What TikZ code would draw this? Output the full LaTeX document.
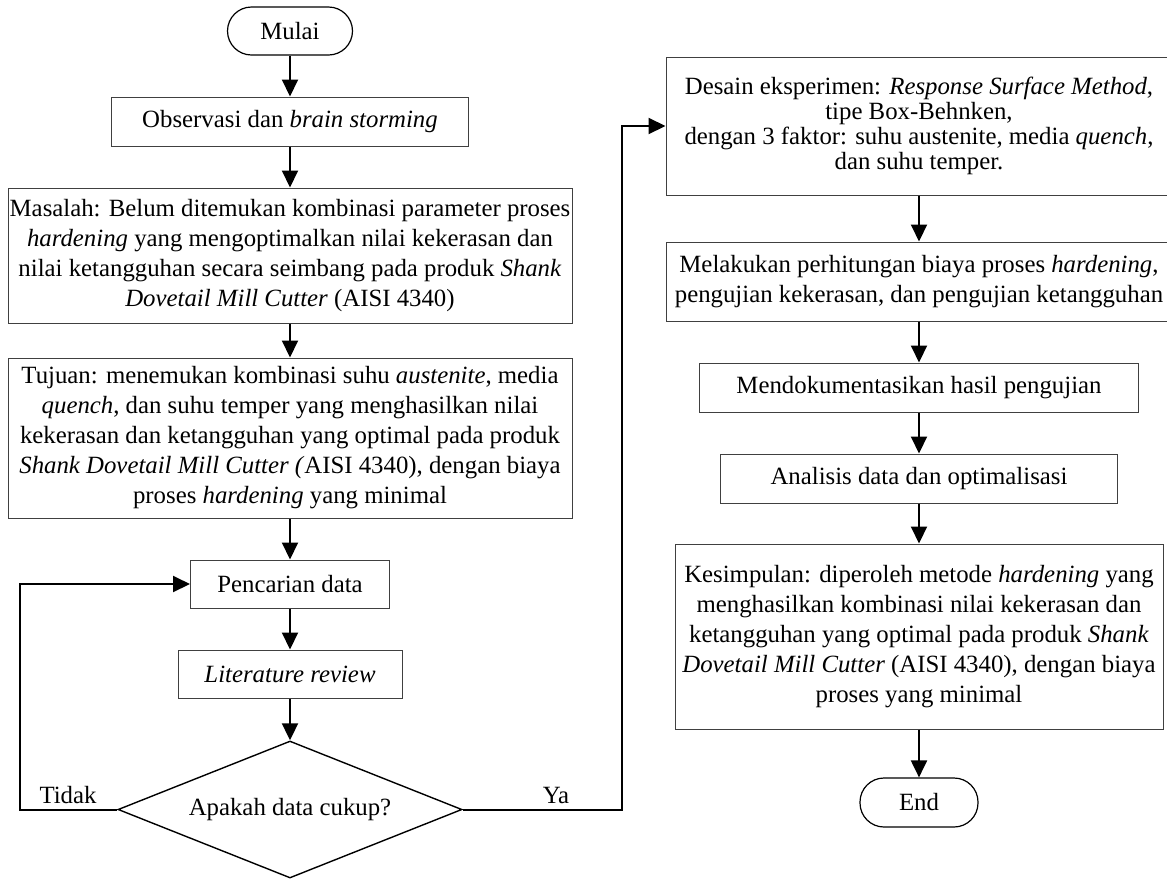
\documentclass[tikz,border=0pt]{standalone}
\usepackage{fontspec}
\setmainfont{Liberation Serif}
\usetikzlibrary{shapes.geometric,arrows.meta}

\tikzset{
  every node/.style={font=\fontsize{12.4pt}{15pt}\selectfont},
  kotak/.style={draw=black!75, line width=0.5pt, align=center, inner sep=0pt},
  terminal/.style={draw=black, line width=0.6pt, rounded corners=12pt, inner sep=0pt},
  keputusan/.style={diamond, draw=black, line width=0.7pt, aspect=2.5, inner sep=0pt,
    minimum width=172pt, minimum height=68.5pt},
  panah/.style={line width=1pt, -{Triangle[length=8.5pt,width=8pt]}},
  garis/.style={line width=1pt},
}

\begin{document}
\begin{tikzpicture}[x=0.5pt, y=-0.5pt]
  \useasboundingbox (0,0) rectangle (1167,879);

  \node[terminal, minimum width=62.5pt, minimum height=24pt] at (290,31) (mulai) {Mulai};
  \node[kotak, minimum width=178.5pt, minimum height=24.5pt] at (290,121.5) (obs) {Observasi dan \textit{brain storming}};
  \node[kotak, minimum width=282pt, minimum height=67.5pt] at (290,255.5) (masalah)
    {Masalah: Belum ditemukan kombinasi parameter proses\\
     \textit{hardening} yang mengoptimalkan nilai kekerasan dan\\
     nilai ketangguhan secara seimbang pada produk \textit{Shank}\\
     \textit{Dovetail Mill Cutter} (AISI 4340)};
  \node[kotak, minimum width=282pt, minimum height=80pt] at (290,438) (tujuan)
    {Tujuan: menemukan kombinasi suhu \textit{austenite}, media\\
     \textit{quench}, dan suhu temper yang menghasilkan nilai\\
     kekerasan dan ketangguhan yang optimal pada produk\\
     \textit{Shank Dovetail Mill Cutter (}AISI 4340), dengan biaya\\
     proses \textit{hardening} yang minimal};
  \node[kotak, minimum width=99.5pt, minimum height=24pt] at (290,584) (cari) {Pencarian data};
  \node[kotak, minimum width=112pt, minimum height=24pt] at (290,674) (lit) {\textit{Literature review}};
  \node[keputusan] at (290,809.5) (cek) {Apakah data cukup?};

  \node[kotak, minimum width=253pt, minimum height=69pt, font=\fontsize{12.4pt}{12.5pt}\selectfont] at (919,126) (desain)
    {Desain eksperimen: \textit{Response Surface Method},\\
     tipe Box-Behnken,\\
     dengan 3 faktor: suhu austenite, media \textit{quench},\\
     dan suhu temper.};
  \node[kotak, minimum width=253pt, minimum height=39.5pt] at (919,281.5) (hitung)
    {Melakukan perhitungan biaya proses \textit{hardening},\\
     pengujian kekerasan, dan pengujian ketangguhan};
  \node[kotak, minimum width=219.5pt, minimum height=24.5pt] at (919,387.5) (dok) {Mendokumentasikan hasil pengujian};
  \node[kotak, minimum width=198.5pt, minimum height=24.5pt] at (919,478.5) (analisis) {Analisis data dan optimalisasi};
  \node[kotak, minimum width=244pt, minimum height=92.5pt] at (919,636.5) (simpul)
    {Kesimpulan: diperoleh metode \textit{hardening} yang\\
     menghasilkan kombinasi nilai kekerasan dan\\
     ketangguhan yang optimal pada produk \textit{Shank}\\
     \textit{Dovetail Mill Cutter} (AISI 4340), dengan biaya\\
     proses yang minimal};
  \node[terminal, minimum width=59pt, minimum height=24.5pt] at (919,802.5) (selesai) {End};

  \coordinate (pojokkiri) at (20,809.5);
  \coordinate (pojokkanan) at (622,126);
  \node at (68,795) (tidak) {Tidak};
  \node at (556,795) (ya) {Ya};

  \draw[panah] (mulai.south) -- (obs.north);
  \draw[panah] (obs.south) -- (masalah.north);
  \draw[panah] (masalah.south) -- (tujuan.north);
  \draw[panah] (tujuan.south) -- (cari.north);
  \draw[panah] (cari.south) -- (lit.north);
  \draw[panah] (lit.south) -- (cek.north);
  \draw[panah] (cek.west) -- (pojokkiri) |- (cari.west);
  \draw[panah] (cek.east) -| (pojokkanan) -- (desain.west);
  \draw[panah] (desain.south) -- (hitung.north);
  \draw[panah] (hitung.south) -- (dok.north);
  \draw[panah] (dok.south) -- (analisis.north);
  \draw[panah] (analisis.south) -- (simpul.north);
  \draw[panah] (simpul.south) -- (selesai.north);

\end{tikzpicture}
\end{document}
